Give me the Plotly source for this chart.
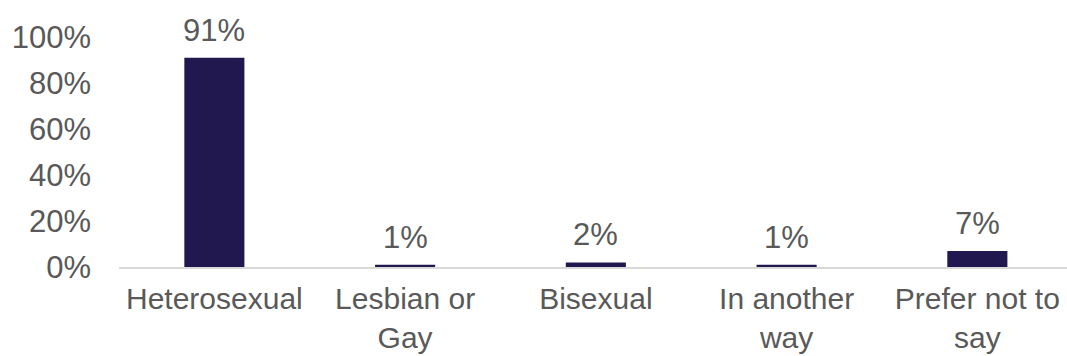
import plotly.graph_objects as go

# Survey responses: sexual orientation
categories = ["Heterosexual", "Lesbian or<br>Gay", "Bisexual", "In another<br>way", "Prefer not to<br>say"]
values = [91, 1, 2, 1, 7]
y_ticks = [0, 20, 40, 60, 80, 100]
y_tick_labels = [f"{t}%" for t in y_ticks]

bar_color = "#21184f"
text_color = "#595959"
font_family = "Liberation Sans, Arial, sans-serif"
font_size = 31

fig = go.Figure()
fig.add_trace(go.Bar(
    x=list(range(len(categories))),
    y=values,
    width=0.315,
    marker=dict(color=bar_color, line=dict(width=0)),
    hoverinfo="skip",
))

# Value labels sitting above each bar
for i, v in enumerate(values):
    fig.add_annotation(
        x=i, y=v, text=f"{v}%", showarrow=False,
        yanchor="bottom", yshift=8,
        font=dict(size=font_size, color=text_color, family=font_family),
    )

fig.update_layout(
    width=1067, height=356,
    margin=dict(l=119, r=0, t=37, b=89),
    paper_bgcolor="white", plot_bgcolor="white",
    showlegend=False,
    font=dict(family=font_family, size=font_size, color=text_color),
    xaxis=dict(
        range=[-0.5, 4.47],
        tickmode="array",
        tickvals=list(range(len(categories))),
        ticktext=categories,
        showgrid=False, zeroline=False,
        showline=True, linecolor="#d9d9d9", linewidth=2,
        ticks="", ticklabelstandoff=4,
        automargin=False,
        tickfont=dict(size=30, color=text_color),
    ),
    yaxis=dict(
        range=[0, 100],
        tickmode="array",
        tickvals=y_ticks,
        ticktext=y_tick_labels,
        showgrid=False, zeroline=False, showline=False,
        ticks="", ticklabelstandoff=27,
        automargin=False,
        tickfont=dict(size=font_size, color=text_color),
    ),
)

fig.write_html("out.html")
